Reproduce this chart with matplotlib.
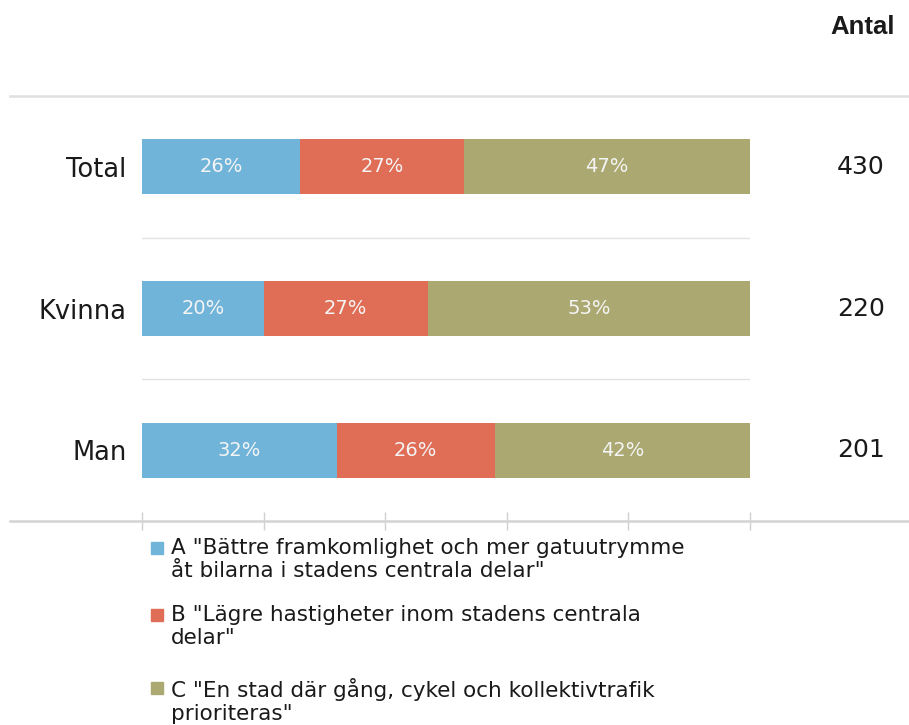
import matplotlib.pyplot as plt
from matplotlib.lines import Line2D
from matplotlib.patches import Rectangle

# data
groups = ["Total", "Kvinna", "Man"]
share_a = [26, 20, 32]
share_b = [27, 27, 26]
share_c = [47, 53, 42]
antal = [430, 220, 201]
legend_labels = [
    'A "Bättre framkomlighet och mer gatuutrymme\nåt bilarna i stadens centrala delar"',
    'B "Lägre hastigheter inom stadens centrala\ndelar"',
    'C "En stad där gång, cykel och kollektivtrafik\nprioriteras"',
]
colors = ["#70B4DA", "#E06D56", "#ABA971"]

plt.rcParams['font.family'] = ['DejaVu Sans']
W, H = 909, 725
fig = plt.figure(figsize=(W / 100, H / 100), dpi=100)
ax = fig.add_axes([142 / W, 1 - 521 / H, 608 / W, 425 / H])

ypos = list(range(len(groups)))
left = [0] * len(groups)
for vals, col in zip([share_a, share_b, share_c], colors):
    bars = ax.barh(ypos, vals, left=left, height=0.39, color=col, edgecolor='none', zorder=3)
    for b, v in zip(bars, vals):
        ax.text(b.get_x() + b.get_width() / 2, b.get_y() + b.get_height() / 2, f"{v}%",
                ha='center', va='center', color='#F4F4F4', fontsize=14, zorder=4)
    left = [l + v for l, v in zip(left, vals)]

ax.set_xlim(0, 100)
ax.set_ylim(len(groups) - 0.5, -0.5)
ax.set_yticks(ypos)
ax.set_yticklabels(groups, fontsize=18.5, color='#1a1a1a')
ax.tick_params(axis='y', length=0, pad=11)
ax.set_xticks([0, 20, 40, 60, 80, 100])
ax.set_xticklabels([])
ax.tick_params(axis='x', direction='inout', length=13, color='#D0D0D0', width=1)
for s in ax.spines.values():
    s.set_visible(False)

# separators between the groups
for y in [0.5, 1.5]:
    ax.axhline(y, color='#E3E3E3', lw=1, zorder=1)

# top rule and bottom axis line spanning the figure width
fig.add_artist(Line2D([10 / W, 1], [1 - 96 / H] * 2, color='#E0E0E0', lw=1.8))
fig.add_artist(Line2D([10 / W, 1], [1 - 521 / H] * 2, color='#D3D3D3', lw=1.8))

# counts column
fig.text(863 / W, 1 - 27 / H, "Antal", ha='center', va='center', fontsize=18.5,
         fontweight='bold', family='Liberation Sans', color='#1a1a1a')
for i, n in enumerate(antal):
    yd = ax.transData.transform((0, ypos[i]))[1] / fig.bbox.height
    fig.text(885 / W, yd, str(n), ha='right', va='center', fontsize=18, color='#1a1a1a')

# legend
leg_y = [548, 615, 688]
for lab, col, y in zip(legend_labels, colors, leg_y):
    fig.add_artist(Rectangle((151 / W, 1 - (y + 6) / H), 12 / W, 12 / H, color=col,
                             transform=fig.transFigure))
    fig.text(171 / W, 1 - (y - 10) / H, lab, ha='left', va='top', fontsize=15.5,
             color='#1a1a1a', linespacing=1.2)

fig.savefig("out.png", dpi=100)
